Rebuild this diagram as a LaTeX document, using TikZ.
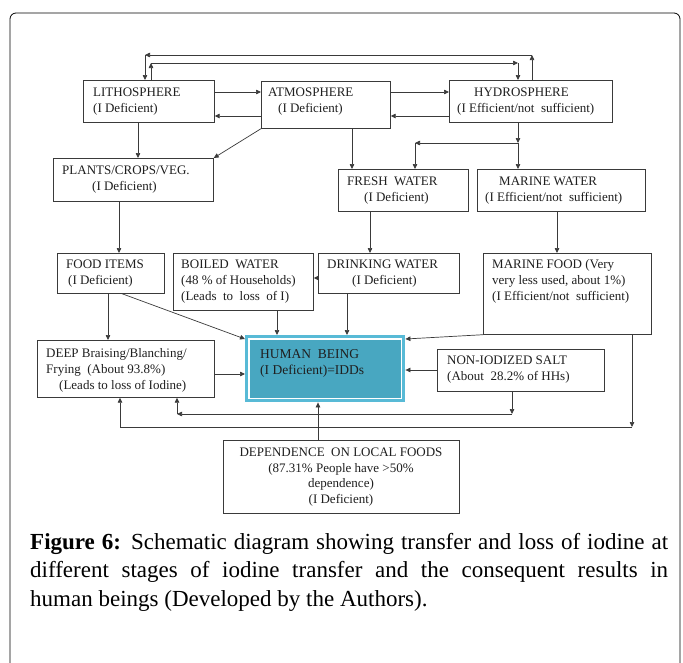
\documentclass[tikz,border=0pt]{standalone}
\usepackage{fontspec}
\setmainfont{Liberation Serif}
\usetikzlibrary{arrows.meta}
\definecolor{lncol}{HTML}{3A3A3A}
\definecolor{hbouter}{HTML}{58BAD6}
\definecolor{hbinner}{HTML}{48A7C1}
\begin{document}
\begin{tikzpicture}[x=1pt,y=-1pt,
  box/.style={draw=lncol, line width=0.7pt, inner sep=0pt, anchor=north west, rectangle},
  txt/.style={inner sep=0pt, anchor=north west, align=left, font=\fontsize{13}{16}\selectfont, text=black!88},
  arr/.style={draw=lncol, line width=0.7pt, -{Triangle[length=5pt,width=4.5pt]}},
  plain/.style={draw=lncol, line width=0.7pt}]
\useasboundingbox (0,0) rectangle (683,662);
\fill[white] (0,0) rectangle (683,662);
% frame
\draw[line width=0.8pt, rounded corners=6pt] (10,720) -- (10,13) -- (680,13) -- (680,720);

% boxes
\node[box, minimum width=131pt, minimum height=42pt] (litho) at (83,80) {};
\node[box, minimum width=129pt, minimum height=47pt] (atmo) at (261,81) {};
\node[box, minimum width=163pt, minimum height=42pt] (hydro) at (449,80) {};
\node[box, minimum width=160pt, minimum height=43pt] (plants) at (53,158) {};
\node[box, minimum width=130pt, minimum height=42pt] (fresh) at (338,169) {};
\node[box, minimum width=168pt, minimum height=42pt] (marineW) at (477,169) {};
\node[box, minimum width=107pt, minimum height=40pt] (food) at (57,253) {};
\node[box, minimum width=140pt, minimum height=57pt] (boiled) at (173,253) {};
\node[box, minimum width=141pt, minimum height=40pt] (drink) at (318,253) {};
\node[box, minimum width=168pt, minimum height=81pt] (marineF) at (483,253) {};
\node[box, minimum width=177pt, minimum height=57pt] (deep) at (37,340) {};
\node[draw=none, fill=hbouter, inner sep=0pt, anchor=north west, minimum width=160pt, minimum height=67pt] (human) at (245,335) {};
\draw[white, line width=1.2pt, fill=hbinner] ([shift={(4,4)}]human.north west) rectangle ([shift={(-4,-4)}]human.south east);
\node[box, minimum width=167pt, minimum height=42pt] (salt) at (437,349) {};
\node[box, minimum width=236pt, minimum height=73pt] (dep) at (223,440) {};

% texts
\node[txt] (lithoT) at (93,88) {LITHOSPHERE\\(I Deficient)};
\node[txt] (atmoT) at (268,88) {ATMOSPHERE\\\hspace*{10pt}(I Deficient)};
\node[txt] (hydroT) at (457,88) {\hspace*{17pt}HYDROSPHERE\\(I Efficient/not\ \ sufficient)};
\node[txt] (plantsT) at (62,166) {PLANTS/CROPS/VEG.\\\hspace*{30pt}(I Deficient)};
\node[txt] (freshT) at (347,177) {FRESH\ \ WATER\\\hspace*{17pt}(I Deficient)};
\node[txt] (marineWT) at (485,177) {\hspace*{14pt}MARINE WATER\\(I Efficient/not\ \ sufficient)};
\node[txt] (foodT) at (66,260) {FOOD ITEMS\\\hspace*{2pt}(I Deficient)};
\node[txt] (boiledT) at (181,260) {BOILED\ \ WATER\\(48 \% of Households)\\(Leads\ \ to\ \ loss\ \ of I)};
\node[txt] (drinkT) at (327,260) {DRINKING WATER\\\hspace*{25pt}(I Deficient)};
\node[txt] (marineFT) at (492,259) {MARINE FOOD (Very\\very less used, about 1\%)\\(I Efficient/not\ \ sufficient)};
\node[txt] (deepT) at (46,348) {DEEP Braising/Blanching/\\Frying\ \ (About 93.8\%)\\\hspace*{13pt}(Leads to loss of Iodine)};
\node[txt, font=\fontsize{13.5}{16.5}\selectfont] (humanT) at (260,349) {HUMAN\ \ BEING\\(I Deficient)=IDDs};
\node[txt] (saltT) at (447,356) {NON-IODIZED SALT\\(About\ \ 28.2\% of HHs)};
\node[txt, anchor=north, align=center, font=\fontsize{13}{15.5}\selectfont] (depT) at (341,448) {DEPENDENCE\ \ ON LOCAL FOODS\\(87.31\% People have >50\%\\dependence)\\(I Deficient)};

% helper coordinates
\coordinate (t1a) at (532,55);
\coordinate (t1b) at (145,55);
\coordinate (t2a) at (151,63);
\coordinate (t2b) at (518,63);
\coordinate (ya) at (0,92);
\coordinate (yb) at (0,116);
\coordinate (x138) at (138,0);
\coordinate (x352) at (352,0);
\coordinate (j1) at (518,143);
\coordinate (j2) at (415,143);
\coordinate (x119) at (119,0);
\coordinate (x370) at (370,0);
\coordinate (x557) at (557,0);
\coordinate (y278) at (0,278);
\coordinate (x122) at (122,0);
\coordinate (x108) at (108,0);
\coordinate (x277) at (277,0);
\coordinate (x347) at (347,0);
\coordinate (y374) at (0,374);
\coordinate (y370) at (0,370);
\coordinate (b1a) at (512,414);
\coordinate (b1b) at (177,414);
\coordinate (b2a) at (632,427);
\coordinate (b2b) at (120,427);
\coordinate (x318) at (318,0);

% top loops
\draw[arr] (hydro.north -| t1a) -- (t1a);
\draw[arr] (t1a) -- (t1b);
\draw[arr] (t1b) -- (litho.north -| t1b);
\draw[arr] (litho.north -| t2a) -- (t2a);
\draw[arr] (t2a) -- (t2b);
\draw[arr] (t2b) -- (hydro.north -| t2b);
% sphere links
\draw[arr] (litho.east |- ya) -- (atmo.west |- ya);
\draw[arr] (atmo.west |- yb) -- (litho.east |- yb);
\draw[arr] (atmo.east |- ya) -- (hydro.west |- ya);
\draw[arr] (hydro.west |- yb) -- (atmo.east |- yb);
\draw[arr] (atmo.south west) -- (plants.north east);
\draw[arr] (litho.south -| x138) -- (plants.north -| x138);
\draw[arr] (atmo.south -| x352) -- (fresh.north -| x352);
\draw[arr] (hydro.south -| j1) -- (j1);
\draw[arr] (j1) -- (j2);
\draw[arr] (j2) -- (fresh.north -| j2);
\draw[arr] (j1) -- (marineW.north -| j1);
% middle
\draw[arr] (plants.south -| x119) -- (food.north -| x119);
\draw[arr] (fresh.south -| x370) -- (drink.north -| x370);
\draw[arr] (marineW.south -| x557) -- (marineF.north -| x557);
\draw[arr] (drink.west |- y278) -- (boiled.east |- y278);
\draw[arr] (food.south -| x122) -- ([shift={(0,4)}]human.north west);
\draw[arr] (food.south -| x108) -- (deep.north -| x108);
\draw[arr] (boiled.south -| x277) -- (human.north -| x277);
\draw[arr] (drink.south -| x347) -- (human.north -| x347);
\draw[arr] (marineF.south west) -- ([shift={(0,4)}]human.north east);
\draw[arr] (deep.east |- y374) -- (human.west |- y374);
\draw[arr] (salt.west |- y370) -- (human.east |- y370);
% bottom loops
\draw[arr] (salt.south -| b1a) -- (b1a);
\draw[arr] (b1a) -- (b1b);
\draw[arr] (b1b) -- (deep.south -| b1b);
\draw[arr] (marineF.south -| b2a) -- (b2a);
\draw[plain] (b2a) -- (b2b);
\draw[arr] (b2b) -- (deep.south -| b2b);
\draw[arr] (dep.north -| x318) -- (human.south -| x318);

% caption
\node[inner sep=0pt, anchor=north west, text width=638pt, align=justify, font=\fontsize{23}{28.5}\selectfont] (cap) at (30,533) {\textbf{Figure 6:} Schematic diagram showing transfer and loss of iodine at\linebreak different stages of iodine transfer and the consequent results in\linebreak human beings (Developed by the Authors).};
\end{tikzpicture}
\end{document}
